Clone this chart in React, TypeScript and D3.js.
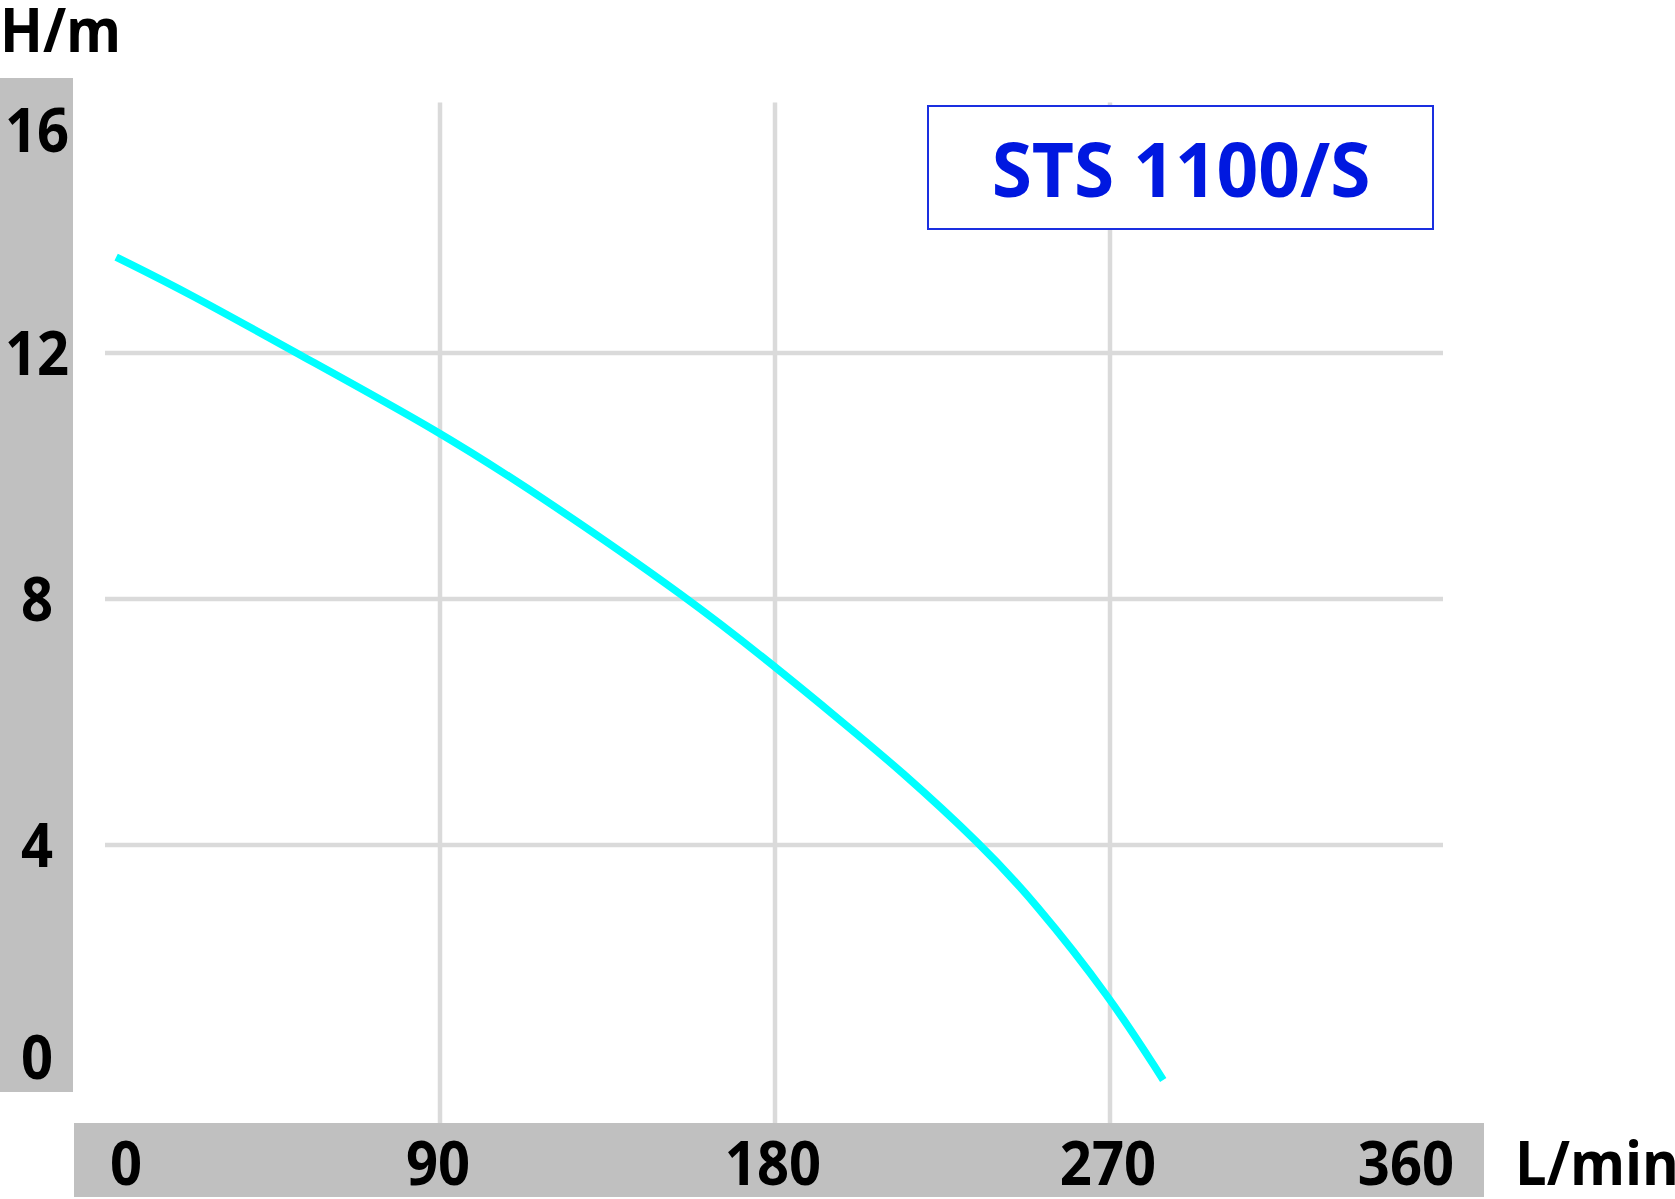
import React, { useEffect, useRef } from 'react';
import * as d3 from 'd3';

// pump curve STS 1100/S, flow in L/min, head in m
const flowTicks = [0, 90, 180, 270, 360];
const headTicks = [0, 4, 8, 12, 16];
const flow = [3, 22.6, 51.4, 90, 118.6, 157, 180, 197.5, 213.6, 235.5, 249.4, 270, 284.3];
const head = [13.56, 12.97, 12.0, 10.72, 9.61, 8.0, 6.9, 6.03, 5.22, 4.0, 3.1, 1.53, 0.18];
const modelName = 'STS 1100/S';

const WIDTH = 1675;
const HEIGHT = 1199;
const FONT = '"Open Sans", "Noto Sans", sans-serif';

export default function App() {
  const svgRef = useRef<SVGSVGElement>(null);

  useEffect(() => {
    if (!svgRef.current) return;
    const svg = d3.select(svgRef.current);
    svg.selectAll('*').remove();

    const x = d3.scaleLinear().domain([0, 360]).range([105, 1445]);
    const y = d3.scaleLinear().domain([0, 16]).range([1091, 107]);

    // bold text, a little narrower than the font draws it
    const label = (g: any, tx: number, ty: number, str: string, size = 61, sx = 0.92, anchor = 'start', fill = '#000') =>
      g.append('text')
        .attr('transform', `translate(${tx},${ty}) scale(${sx},1)`)
        .attr('text-anchor', anchor)
        .attr('font-family', FONT)
        .attr('font-weight', 700)
        .attr('font-size', size)
        .attr('fill', fill)
        .text(str);

    // grey label bands
    svg.append('rect').attr('x', 0).attr('y', 78).attr('width', 73).attr('height', 1014).attr('fill', '#c0c0c0');
    svg.append('rect').attr('x', 74).attr('y', 1123).attr('width', 1410).attr('height', 74).attr('fill', '#c0c0c0');

    // grid
    svg.append('g')
      .selectAll('line')
      .data(headTicks.filter(d => d > 0 && d < 16))
      .enter()
      .append('line')
      .attr('x1', x(0))
      .attr('x2', 1443)
      .attr('y1', d => y(d))
      .attr('y2', d => y(d))
      .attr('stroke', '#dadada')
      .attr('stroke-width', 4.5);

    svg.append('g')
      .selectAll('line')
      .data(flowTicks.filter(d => d > 0 && d < 360))
      .enter()
      .append('line')
      .attr('x1', d => x(d))
      .attr('x2', d => x(d))
      .attr('y1', 102.5)
      .attr('y2', 1123)
      .attr('stroke', '#dadada')
      .attr('stroke-width', 4.5);

    // tick labels, kept inside the bands
    const yl = svg.append('g');
    headTicks.forEach(d => {
      label(yl, 37, Math.min(Math.max(y(d), 130), 1057) + 22, String(d), 61, 0.92, 'middle');
    });

    const xl = svg.append('g');
    flowTicks.forEach(d => {
      label(xl, Math.min(Math.max(x(d) - 2, 126), 1406), 1185, String(d), 61, 0.92, 'middle');
    });

    // axis titles
    label(svg, 0, 52, 'H/m');
    label(svg, 1515, 1185, 'L/min');

    // model box
    svg.append('rect')
      .attr('x', 928)
      .attr('y', 106)
      .attr('width', 505)
      .attr('height', 123)
      .attr('fill', '#fff')
      .attr('stroke', '#1a2fe0')
      .attr('stroke-width', 2);

    label(svg, 1181, 197, modelName, 76, 0.96, 'middle', '#0018e0');

    // the curve (B-spline smooths out small reading errors)
    const pts = flow.map((q, i) => [q, head[i]] as [number, number]);
    const line = d3.line<[number, number]>()
      .x(d => x(d[0]))
      .y(d => y(d[1]))
      .curve(d3.curveBasis);

    svg.append('path')
      .datum(pts)
      .attr('fill', 'none')
      .attr('stroke', '#00ffff')
      .attr('stroke-width', 7.5)
      .attr('d', line);
  }, []);

  return (
    <svg
      ref={svgRef}
      width={WIDTH}
      height={HEIGHT}
      style={{ position: 'absolute', left: 0, top: 0, background: '#fff' }}
    />
  );
}
